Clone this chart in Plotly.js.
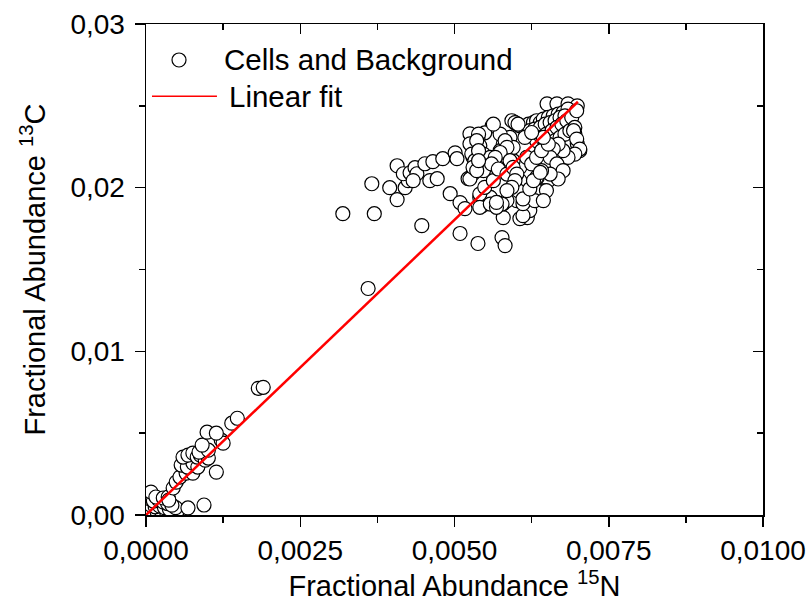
<!DOCTYPE html>
<html>
<head>
<meta charset="utf-8">
<script src="https://cdn.plot.ly/plotly-3.0.1.min.js"></script>
<style>html,body{margin:0;padding:0;background:#fff;}#chart{width:808px;height:605px;}</style>
</head>
<body>
<div id="chart"></div>
<script>
// Measured points: Fractional Abundance 15N (x) vs 13C (y)
var cellsX = [
0.00003,0.00012,0.00040,0.00003,0.00010,0.00018,0.00026,0.00034,0.00045,0.00052,
0.00008,0.00015,0.00022,0.00030,0.00038,0.00048,0.00005,0.00012,0.00020,0.00028,
0.00035,0.00042,0.00008,0.00016,0.00028,0.00036,0.00037,0.00068,0.00094,0.00044,
0.00049,0.00055,0.00065,0.00057,0.00076,0.00114,0.00067,0.00076,0.00084,0.00060,
0.00068,0.00076,0.00083,0.00088,0.00096,0.00101,0.00086,0.00101,0.00091,0.00122,
0.00125,0.00099,0.00114,0.00139,0.00148,0.00182,0.00190,0.00360,
0.00319,0.00370,0.00366,0.00447,0.00407,0.00395,0.00407,0.00420,0.00425,0.00417,
0.00428,0.00436,0.00439,0.00433,0.00452,0.00465,0.00481,0.00501,0.00504,0.00460,
0.00472,0.00493,0.00509,0.00517,0.00509,0.00538,0.00577,0.00582,0.00525,0.00522,
0.00541,0.00545,0.00558,0.00569,0.00579,0.00579,0.00561,0.00549,0.00538,0.00541,
0.00541,0.00545,0.00536,0.00530,0.00598,0.00601,0.00650,0.00666,0.00684,0.00699,
0.00695,0.00699,0.00703,0.00666,0.00652,0.00634,0.00618,0.00622,0.00606,0.00611,
0.00606,0.00614,0.00620,0.00628,0.00633,0.00639,0.00644,0.00652,0.00660,0.00668,
0.00676,0.00684,0.00622,0.00630,0.00639,0.00647,0.00655,0.00663,0.00671,0.00679,
0.00633,0.00641,0.00649,0.00658,0.00666,0.00674,0.00682,0.00690,0.00655,0.00663,
0.00671,0.00679,0.00687,0.00695,0.00693,0.00698,0.00703,0.00695,0.00684,0.00676,
0.00668,0.00660,0.00655,0.00666,0.00676,0.00668,0.00655,0.00641,0.00633,0.00647,
0.00633,0.00622,0.00617,0.00612,0.00601,0.00585,0.00577,0.00558,0.00541,0.00549,
0.00563,0.00547,0.00536,0.00530,0.00533,0.00547,0.00558,0.00568,0.00582,0.00593,
0.00606,0.00606,0.00595,0.00617,0.00625,0.00633,0.00641,0.00652,0.00644,0.00590,
0.00579,0.00574,0.00582,0.00595,0.00614,0.00625,0.00541,0.00558,0.00568,0.00611,
0.00630,0.00649,0.00644,0.00574,0.00582,0.00585,0.00574,0.00566,0.00560,0.00571,
0.00585,0.00590,0.00595,0.00601,0.00525,0.00528,0.00533,0.00593,0.00598,0.00603,
0.00563,0.00539,0.00536,0.00525,0.00530,0.00536,0.00539,0.00539,0.00568,0.00603,
0.00611,0.00622,0.00628,0.00639,0.00598,0.00593,0.00585,0.00698
];
var cellsY = [
0.00005,0.00005,0.00005,0.00030,0.00025,0.00020,0.00015,0.00010,0.00020,0.00030,
0.00060,0.00050,0.00055,0.00045,0.00035,0.00045,0.00100,0.00085,0.00095,0.00080,
0.00070,0.00060,0.00140,0.00110,0.00104,0.00110,0.00091,0.00043,0.00061,0.00165,
0.00201,0.00232,0.00256,0.00305,0.00256,0.00262,0.00293,0.00317,0.00293,0.00354,
0.00366,0.00378,0.00354,0.00366,0.00335,0.00348,0.00384,0.00396,0.00427,0.00457,
0.00439,0.00506,0.00500,0.00561,0.00591,0.00774,0.00780,0.01384,
0.01841,0.01841,0.02024,0.01768,0.02134,0.02000,0.01927,0.02000,0.02043,0.02085,
0.02091,0.02122,0.02085,0.02043,0.02146,0.02159,0.02177,0.02213,0.02177,0.02043,
0.02055,0.01963,0.01909,0.01872,0.01720,0.01659,0.01695,0.01646,0.02329,0.02055,
0.01939,0.01890,0.01939,0.01909,0.01902,0.01817,0.02378,0.02335,0.02299,0.02256,
0.02213,0.02165,0.02122,0.02085,0.02396,0.02390,0.02512,0.02512,0.02512,0.02500,
0.02329,0.02268,0.02226,0.02104,0.02043,0.02061,0.01817,0.01860,0.01811,0.01829,
0.02378,0.02368,0.02388,0.02398,0.02409,0.02398,0.02419,0.02429,0.02439,0.02449,
0.02459,0.02480,0.02348,0.02358,0.02368,0.02388,0.02398,0.02409,0.02429,0.02439,
0.02287,0.02307,0.02327,0.02348,0.02368,0.02388,0.02409,0.02429,0.02266,0.02287,
0.02307,0.02327,0.02348,0.02368,0.02348,0.02297,0.02236,0.02205,0.02185,0.02226,
0.02266,0.02236,0.02185,0.02145,0.02104,0.02053,0.02083,0.02104,0.02063,0.01982,
0.01982,0.02002,0.01961,0.01921,0.01921,0.01921,0.01900,0.01941,0.01961,0.02002,
0.02043,0.02104,0.02145,0.02185,0.02236,0.02205,0.02185,0.02145,0.02104,0.02083,
0.02043,0.02124,0.02165,0.02185,0.02145,0.02185,0.02226,0.02266,0.02307,0.02307,
0.02266,0.02226,0.02195,0.02246,0.02307,0.02337,0.01880,0.01900,0.01880,0.01902,
0.01921,0.01982,0.01921,0.02327,0.02287,0.02246,0.02215,0.02185,0.02145,0.02114,
0.02083,0.02165,0.02124,0.02083,0.02268,0.02205,0.02165,0.02409,0.02398,0.02388,
0.02388,0.02327,0.02287,0.02053,0.02124,0.02104,0.02226,0.02165,0.01910,0.01982,
0.01931,0.01992,0.02043,0.02093,0.02043,0.02002,0.01982,0.02470
];
// Linear fit endpoints
var fitX = [0.0, 0.0070];
var fitY = [0.0, 0.02525];

var xTickStep = 0.0025, yTickStep = 0.01;

var FONT = 'Liberation Sans, Arial, Helvetica, sans-serif';

var traces = [
  {x: cellsX, y: cellsY, type: 'scatter', mode: 'markers', name: 'Cells and Background',
   marker: {symbol: 'circle', size: 14, color: '#ffffff', line: {color: '#000000', width: 1.2}}},
  {x: fitX, y: fitY, type: 'scatter', mode: 'lines', name: 'Linear fit',
   line: {color: '#ff0000', width: 2.5}},
  // empty helper trace so the mirrored top/right axes (inward ticks) are drawn
  {x: [], y: [], type: 'scatter', mode: 'markers', xaxis: 'x2', yaxis: 'y2',
   hoverinfo: 'skip', showlegend: false}
];

var axCommon = {showgrid: false, zeroline: false, showline: true, linecolor: '#000', linewidth: 1.5,
  tickcolor: '#000', tickwidth: 1.5, ticklen: 10, automargin: false};

var layout = {
  width: 808, height: 605,
  margin: {l: 146, r: 45, t: 24, b: 90, pad: 0},
  paper_bgcolor: '#ffffff', plot_bgcolor: '#ffffff',
  separators: ',.',
  font: {family: FONT, size: 28, color: '#000'},
  showlegend: false,
  xaxis: Object.assign({}, axCommon, {
    range: [0, 0.01], tick0: 0, dtick: xTickStep, tickformat: '.4f', ticks: 'outside', mirror: true,
    minor: {dtick: xTickStep / 2, ticklen: 6, tickwidth: 1.5, tickcolor: '#000', ticks: 'outside'},
    tickfont: {family: FONT, size: 28, color: '#000'},
    title: {text: 'Fractional Abundance <sup>15</sup>N', standoff: 6, font: {family: FONT, size: 29, color: '#000'}}
  }),
  yaxis: Object.assign({}, axCommon, {
    range: [0, 0.03], tick0: 0, dtick: yTickStep, tickformat: '.2f', ticks: 'outside', mirror: true,
    minor: {dtick: yTickStep / 2, ticklen: 6, tickwidth: 1.5, tickcolor: '#000', ticks: 'outside'},
    ticklabelstandoff: 4,
    tickfont: {family: FONT, size: 28, color: '#000'},
    title: {text: 'Fractional Abundance <sup>13</sup>C', standoff: 16, font: {family: FONT, size: 29, color: '#000'}}
  }),
  xaxis2: Object.assign({}, axCommon, {
    overlaying: 'x', side: 'top', anchor: 'y2', range: [0, 0.01], tick0: 0, dtick: xTickStep,
    ticks: 'inside', showticklabels: false,
    minor: {dtick: xTickStep / 2, ticklen: 6, tickwidth: 1.5, tickcolor: '#000', ticks: 'inside'}
  }),
  yaxis2: Object.assign({}, axCommon, {
    overlaying: 'y', side: 'right', anchor: 'x2', range: [0, 0.03], tick0: 0, dtick: yTickStep,
    ticks: 'inside', showticklabels: false,
    minor: {dtick: yTickStep / 2, ticklen: 6, tickwidth: 1.5, tickcolor: '#000', ticks: 'inside'}
  }),
  shapes: [
    {type: 'circle', xref: 'paper', yref: 'paper', xsizemode: 'pixel', ysizemode: 'pixel',
     xanchor: 0.0535, yanchor: 0.9267, x0: -7, x1: 7, y0: -7, y1: 7,
     line: {color: '#000', width: 1.2}, fillcolor: '#fff'},
    {type: 'line', xref: 'paper', yref: 'paper', x0: 0.0097, x1: 0.115, y0: 0.853, y1: 0.853,
     line: {color: '#ff0000', width: 1.5}}
  ],
  annotations: [
    {text: 'Cells and Background', xref: 'paper', yref: 'paper', x: 0.123, y: 0.9267,
     xanchor: 'left', yanchor: 'middle', showarrow: false, font: {family: FONT, size: 29.5, color: '#000'}},
    {text: 'Linear fit', xref: 'paper', yref: 'paper', x: 0.131, y: 0.853,
     xanchor: 'left', yanchor: 'middle', showarrow: false, font: {family: FONT, size: 29.5, color: '#000'}}
  ]
};

Plotly.newPlot('chart', traces, layout, {staticPlot: true, displayModeBar: false});
</script>
</body>
</html>
